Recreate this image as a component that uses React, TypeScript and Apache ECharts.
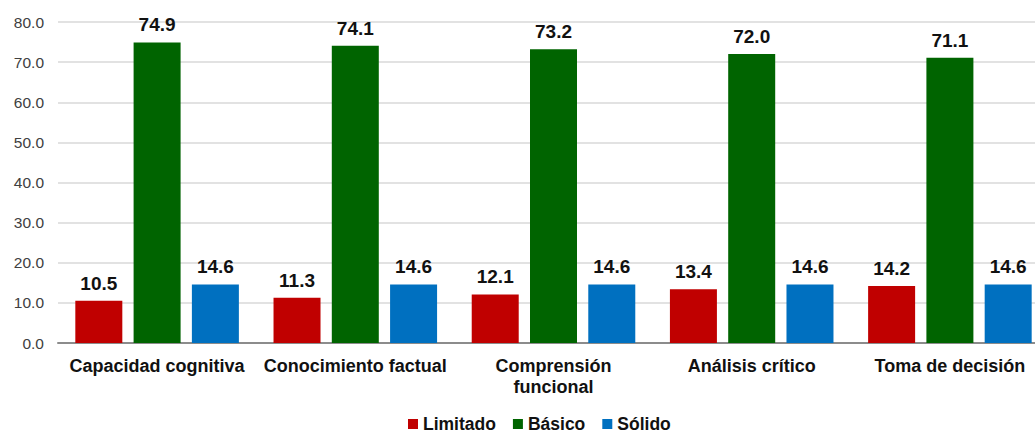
import React, { useEffect, useRef } from "react";
import * as echarts from "echarts";

const categories = [
  "Capacidad cognitiva",
  "Conocimiento factual",
  "Comprensión funcional",
  "Análisis crítico",
  "Toma de decisión",
];
const limitado = [10.5, 11.3, 12.1, 13.4, 14.2];
const basico = [74.9, 74.1, 73.2, 72.0, 71.1];
const solido = [14.6, 14.6, 14.6, 14.6, 14.6];
const yTicks = [0, 10, 20, 30, 40, 50, 60, 70, 80];

const FONT = "'Liberation Sans', Arial, sans-serif";

export default function App() {
  const ref = useRef<HTMLDivElement>(null);
  useEffect(() => {
    document.body.style.margin = "0";
    const chart = echarts.init(ref.current!, null, { renderer: "svg" });
    const mk = (name: string, data: number[], color: string) => ({
      name,
      type: "bar",
      data,
      barWidth: 47,
      barGap: "24%",
      itemStyle: { color },
      label: {
        show: true,
        position: "top",
        distance: 8,
        formatter: (p: any) => Number(p.value).toFixed(1),
        fontFamily: FONT,
        fontWeight: "bold",
        fontSize: 19,
        color: "#111",
      },
    });
    chart.setOption({
      animation: false,
      textStyle: { fontFamily: FONT },
      grid: { left: 58, right: 0, top: 22, bottom: 91, containLabel: false },
      legend: {
        bottom: -4,
        left: 403,
        itemWidth: 10,
        itemHeight: 10,
        itemGap: 17,
        icon: "rect",
        textStyle: { fontFamily: FONT, fontWeight: "bold", fontSize: 17.5, color: "#111" },
        data: ["Limitado", "Básico", "Sólido"],
      },
      xAxis: {
        type: "category",
        data: categories,
        axisTick: { show: false },
        axisLine: { lineStyle: { color: "#8c8c8c", width: 2 } },
        axisLabel: {
          interval: 0,
          margin: 12,
          fontFamily: FONT,
          fontWeight: "bold",
          fontSize: 18,
          color: "#111",
          lineHeight: 21,
          formatter: (v: string) => (v === "Comprensión funcional" ? "Comprensión\nfuncional" : v),
        },
      },
      yAxis: {
        type: "value",
        min: yTicks[0],
        max: yTicks[yTicks.length - 1],
        interval: 10,
        axisLabel: {
          formatter: (v: number) => v.toFixed(1),
          fontFamily: FONT,
          fontSize: 15.5,
          color: "#404040",
          margin: 14,
        },
        splitLine: { lineStyle: { color: "#d9d9d9", width: 1.5 } },
        axisLine: { show: false },
        axisTick: { show: false },
      },
      series: [
        mk("Limitado", limitado, "#c00000"),
        mk("Básico", basico, "#006400"),
        mk("Sólido", solido, "#0070c0"),
      ],
    });
    return () => chart.dispose();
  }, []);
  return (
    <div style={{ position: "absolute", left: 0, top: 0, width: 1035, height: 434, overflow: "hidden", background: "#fff" }}>
      <div ref={ref} style={{ width: 1049, height: 434 }} />
    </div>
  );
}
